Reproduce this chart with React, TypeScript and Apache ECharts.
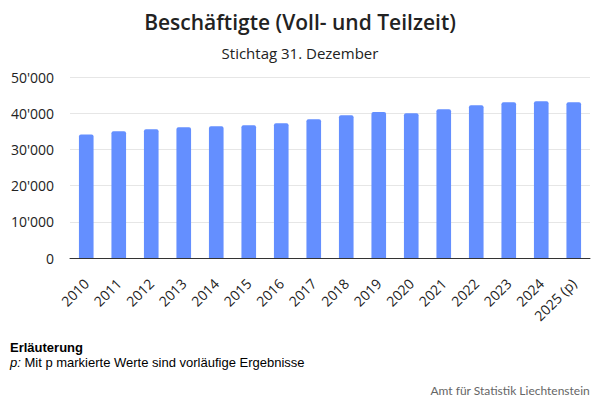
import React, { useEffect, useRef } from 'react';
import * as echarts from 'echarts';

const years = ['2010', '2011', '2012', '2013', '2014', '2015', '2016', '2017', '2018', '2019', '2020', '2021', '2022', '2023', '2024', '2025 (p)'];
const employed = [34100, 35000, 35600, 36100, 36400, 36700, 37200, 38300, 39400, 40300, 40000, 41100, 42200, 43000, 43300, 43000];

const fmt = (v: number) => String(v).replace(/\B(?=(\d{3})+(?!\d))/g, "'");

const App = () => {
  const chartRef = useRef<HTMLDivElement>(null);

  useEffect(() => {
    const chart = echarts.init(chartRef.current, null, { renderer: 'svg' });
    chart.setOption({
      animation: false,
      title: [
        {
          text: 'Beschäftigte (Voll- und Teilzeit)',
          left: 'center',
          top: 6,
          textStyle: { fontFamily: 'Open Sans', fontSize: 21, fontWeight: 600, color: '#222' },
        },
        {
          text: 'Stichtag 31. Dezember',
          left: 'center',
          top: 40,
          textStyle: { fontFamily: 'Open Sans', fontSize: 15, fontWeight: 'normal', color: '#222' },
        },
      ],
      grid: { left: 70, right: 10, top: 77, bottom: 142 },
      xAxis: {
        type: 'category',
        data: years,
        axisTick: { show: false },
        axisLine: { lineStyle: { color: '#333', width: 1 } },
        axisLabel: { rotate: 45, fontFamily: 'Open Sans', fontSize: 14, color: '#222', margin: 23, interval: 0 },
      },
      yAxis: {
        type: 'value',
        min: 0,
        max: 50000,
        interval: 10000,
        axisLabel: { fontFamily: 'Open Sans', fontSize: 14, color: '#222', margin: 16, formatter: fmt },
        splitLine: { lineStyle: { color: '#e6e6e6' } },
      },
      series: [
        {
          type: 'bar',
          data: employed,
          barWidth: '45%',
          itemStyle: { color: '#648fff', borderRadius: [2, 2, 0, 0] },
        },
      ],
      graphic: [
        {
          type: 'text',
          left: 10,
          top: 341,
          style: { text: 'Erläuterung', font: 'bold 13px "Liberation Sans", Arial', fill: '#000' },
        },
        {
          type: 'text',
          left: 10,
          top: 356,
          style: {
            text: '{i|p:} Mit p markierte Werte sind vorläufige Ergebnisse',
            font: '13px "Liberation Sans", Arial',
            fill: '#000',
            rich: { i: { fontStyle: 'italic', fontFamily: 'Liberation Sans', fontSize: 13 } },
          },
        },
        {
          type: 'text',
          right: 10,
          top: 384,
          style: { text: 'Amt für Statistik Liechtenstein', font: '12px Lato', fill: '#666' },
        },
      ],
    });
    return () => chart.dispose();
  }, []);

  return <div ref={chartRef} style={{ position: 'absolute', left: 0, top: 0, width: 600, height: 400 }} />;
};

export default App;
